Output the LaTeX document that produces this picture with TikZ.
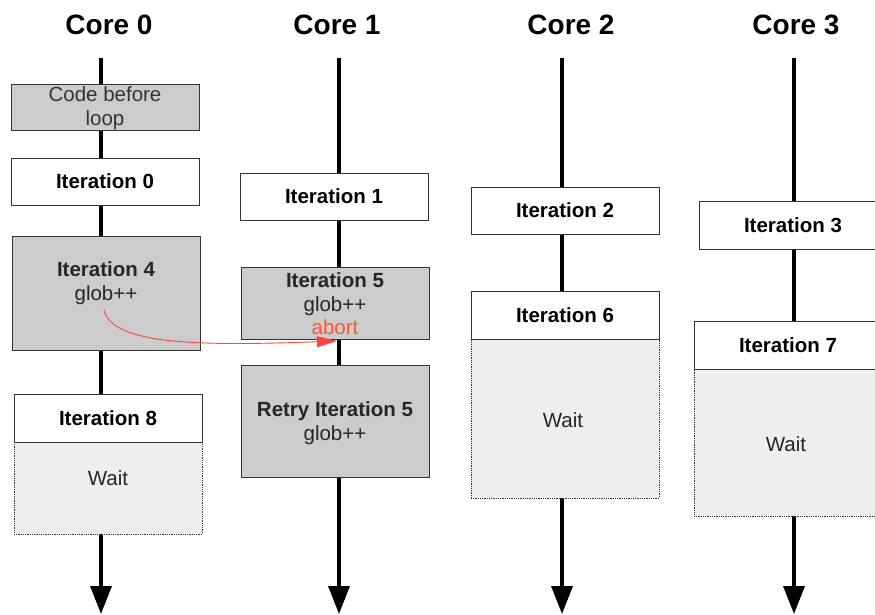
\documentclass[tikz,border=0pt]{standalone}
\usepackage{fontspec}
\setmainfont{Liberation Sans}
\usetikzlibrary{arrows.meta}
\definecolor{boxgrey}{HTML}{CCCCCC}
\definecolor{waitgrey}{HTML}{EEEEEE}
\definecolor{abortred}{HTML}{FF5533}
\definecolor{curvered}{HTML}{FF4444}
\begin{document}
\begin{tikzpicture}
[
x=1pt, y=-1pt,
coretitle/.style={font=\fontsize{28}{30}\selectfont\bfseries},
coreline/.style={line width=3.6pt, -{Triangle[width=21pt,length=28pt]}},
iterbox/.style={rectangle, draw=black!80, line width=0.8pt, fill=white, minimum width=188pt, inner sep=0pt, font=\fontsize{20.5}{23.5}\selectfont\bfseries},
busybox/.style={iterbox, fill=boxgrey},
waitbox/.style={rectangle, draw=black!80, densely dotted, line width=0.8pt, fill=waitgrey, minimum width=188pt, inner sep=0pt},
boxtext/.style={align=center, font=\fontsize{20.5}{23.5}\selectfont, text=black!85}
]
\useasboundingbox (0,0) rectangle (875,614);
%Titles
\node[coretitle]	(c0) at(109,25) {Core 0};
\node[coretitle]	(c1) at(337,25) {Core 1};
\node[coretitle]	(c2) at(571,25) {Core 2};
\node[coretitle]	(c3) at(796,25) {Core 3};
%Time lines
\coordinate (top0) at(101,58);	\coordinate (bot0) at(101,614);
\coordinate (top1) at(339,58);	\coordinate (bot1) at(339,614);
\coordinate (top2) at(562,58);	\coordinate (bot2) at(562,614);
\coordinate (top3) at(794,58);	\coordinate (bot3) at(794,614);
\draw[coreline] (top0) -- (bot0);
\draw[coreline] (top1) -- (bot1);
\draw[coreline] (top2) -- (bot2);
\draw[coreline] (top3) -- (bot3);
%Core 0
\node[busybox, minimum height=46pt]	(pre0) at(105,107) {};
\node[boxtext, text=black!80]		(pre0t) at(105,108) {Code before\\loop};
\node[iterbox, minimum height=47pt]	(it0) at(105,181.5) {Iteration 0};
\node[busybox, minimum height=114pt]	(it4) at(106,293) {};
\node[boxtext]		(it4t) at(106,283) {\textbf{Iteration 4}\\glob++};
\node[waitbox, minimum height=92pt]	(w0) at(108,488) {};
\node[boxtext]		(w0t) at(108,478) {Wait};
\node[iterbox, minimum height=48pt]	(it8) at(108,418) {Iteration 8};
%Core 1
\node[iterbox, minimum height=47pt]	(it1) at(334,196.5) {Iteration 1};
\node[busybox, minimum height=72pt]	(it5) at(335,303) {};
\node[boxtext]		(it5t) at(335,304) {\textbf{Iteration 5}\\glob++\\\textcolor{abortred}{abort}};
\node[busybox, minimum height=112pt]	(re5) at(335,421) {};
\node[boxtext]		(re5t) at(335,423) {\textbf{Retry Iteration 5}\\glob++};
%Core 2
\node[iterbox, minimum height=47pt]	(it2) at(565,210.5) {Iteration 2};
\node[waitbox, minimum height=159pt]	(w2) at(565,418.5) {};
\node[boxtext]		(w2t) at(563,420) {Wait};
\node[iterbox, minimum height=48pt]	(it6) at(565,315) {Iteration 6};
%Core 3
\node[iterbox, minimum height=48pt]	(it3) at(793,225) {Iteration 3};
\node[waitbox, minimum height=147pt]	(w3) at(788,442.5) {};
\node[boxtext]		(w3t) at(786,444) {Wait};
\node[iterbox, minimum height=48pt]	(it7) at(788,345) {Iteration 7};
%Conflict
\coordinate (src) at(104,310);
\coordinate (dst) at(337,341);
\draw[curvered, line width=0.9pt, -{Triangle[width=11pt,length=20pt]}] (src) .. controls (112,345) and (200,346) .. (dst);
\end{tikzpicture}
\end{document}
